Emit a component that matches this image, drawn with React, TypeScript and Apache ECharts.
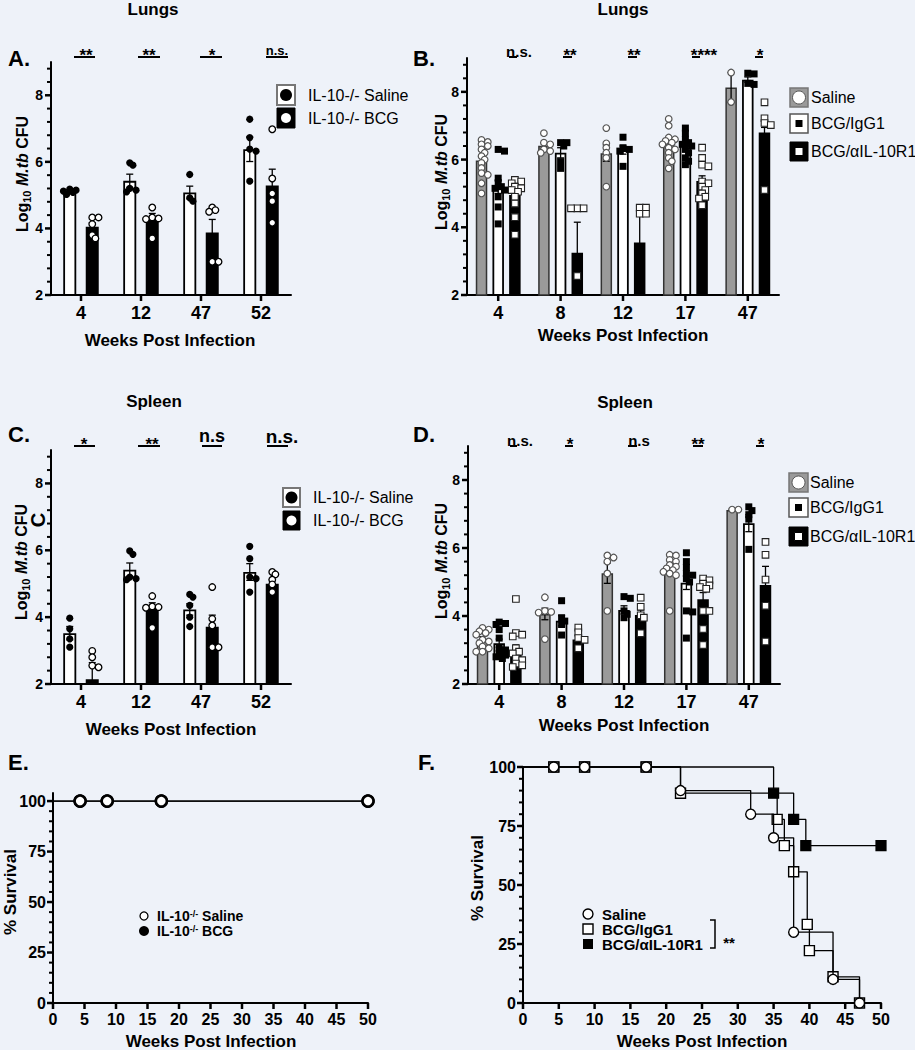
import { useEffect, useRef } from 'react';
import * as echarts from 'echarts';

const FONT = '"Liberation Sans", Arial, Helvetica, sans-serif';
const BG = '#EEF2F9';

// ---------- Panel A: Lungs, IL-10-/- (Saline vs BCG) ----------
const weeksA = ['4', '12', '47', '52'];
const meanA_saline = [5.11, 5.43, 5.08, 6.38];
const semA_saline = [0.05, 0.2, 0.19, 0.37];
const meanA_bcg = [4.05, 4.3, 3.88, 5.29];
const semA_bcg = [0.12, 0.15, 0.39, 0.49];
const ptsA_saline = [
  [5.18, 5.15, 5.12, 5.08, 5.02],
  [5.97, 5.9, 5.2, 5.15, 5.1],
  [5.62, 4.92, 4.82],
  [7.28, 6.73, 6.38, 6.32, 5.42],
];
const ptsA_bcg = [
  [4.33, 4.33, 4.13, 3.8, 3.7],
  [4.63, 4.33, 4.3, 4.28, 3.7],
  [4.63, 4.55, 4.5, 3.0, 3.0],
  [6.98, 5.5, 5.05, 4.82, 4.17],
];

// ---------- Panel B: Lungs (Saline, BCG/IgG1, BCG/aIL-10R1) ----------
const weeksB = ['4', '8', '12', '17', '47'];
const meanB_saline = [5.97, 6.41, 6.19, 6.45, 8.13];
const semB_saline = [0.12, 0.09, 0.24, 0.1, 0.44];
const meanB_igg = [5.2, 6.2, 6.28, 6.43, 8.36];
const semB_igg = [0.2, 0.15, 0.12, 0.1, 0.08];
const meanB_anti = [4.95, 3.25, 3.55, 5.37, 6.8];
const semB_anti = [0.12, 0.9, 0.87, 0.15, 0.15];
const ptsB_saline = [
  [6.58, 6.52, 6.45, 6.4, 6.3, 6.2, 6.1, 6.0, 5.9, 5.75, 5.6, 5.55, 5.3, 5.0],
  [6.78, 6.5, 6.45, 6.3, 6.25, 6.2],
  [6.93, 6.48, 6.35, 6.2, 6.05, 5.2],
  [7.2, 7.0, 6.65, 6.6, 6.55, 6.5, 6.45, 6.35, 6.3, 6.2, 6.05, 5.95, 5.74],
  [8.57, 7.7],
];
const ptsB_igg = [
  [6.3, 6.25, 5.45, 5.3, 5.2, 5.15, 5.1, 4.9, 4.6, 4.1],
  [6.5, 6.5, 6.4, 5.94, 5.74],
  [6.66, 6.35, 6.3, 6.25, 5.8],
  [6.93, 6.78, 6.6, 6.5, 6.45, 6.4, 6.3, 6.2, 6.05, 5.95, 5.85],
  [8.55, 8.53, 8.25, 8.22],
];
const ptsB_anti = [
  [5.4, 5.35, 5.3, 5.2, 5.15, 5.1, 5.05, 4.9, 4.7, 4.3, 3.78],
  [4.56, 4.56, 4.56, 2.56],
  [4.58, 4.58, 4.4, 4.4],
  [6.35, 6.05, 5.85, 5.8, 5.35, 5.3, 5.2, 5.1, 5.0, 4.9, 4.85, 4.65],
  [7.69, 7.22, 7.08, 7.02, 5.1],
];

// ---------- Panel C: Spleen, IL-10-/- ----------
const weeksC = ['4', '12', '47', '52'];
const meanC_saline = [3.52, 5.42, 4.23, 5.35];
const semC_saline = [0.2, 0.2, 0.17, 0.25];
const meanC_bcg = [2.14, 4.31, 3.71, 5.0];
const semC_bcg = [0.5, 0.12, 0.35, 0.12];
const ptsC_saline = [
  [3.97, 3.65, 3.35, 3.1],
  [5.98, 5.88, 5.2, 5.15, 5.12],
  [4.68, 4.6, 4.35, 4.0, 3.72],
  [6.12, 5.75, 5.2, 5.15, 4.75],
];
const ptsC_bcg = [
  [2.99, 2.8, 2.55, 2.5],
  [4.63, 4.32, 4.3, 4.28, 3.68],
  [4.9, 3.95, 3.75, 3.1, 3.1],
  [5.35, 5.28, 5.12, 4.98, 4.75],
];

// ---------- Panel D: Spleen (Saline, BCG/IgG1, BCG/aIL-10R1) ----------
const weeksD = ['4', '8', '12', '17', '47'];
const meanD_saline = [3.31, 4.06, 5.26, 5.4, 7.12];
const semD_saline = [0.08, 0.17, 0.3, 0.08, 0.02];
const meanD_igg = [3.2, 3.86, 4.18, 4.98, 6.73];
const semD_igg = [0.12, 0.15, 0.12, 0.2, 0.25];
const meanD_anti = [3.0, 3.31, 4.03, 4.49, 4.91];
const semD_anti = [0.15, 0.1, 0.15, 0.2, 0.55];
const ptsD_saline = [
  [3.65, 3.6, 3.55, 3.5, 3.45, 3.3, 3.25, 3.2, 3.1, 3.05, 2.95, 2.95],
  [4.55, 4.15, 4.12, 4.1, 3.32],
  [5.78, 5.72, 5.6, 5.25, 4.15],
  [5.8, 5.78, 5.65, 5.6, 5.5, 5.45, 5.4, 5.35, 5.3, 5.25, 5.2, 4.15],
  [7.13, 7.13],
];
const ptsD_igg = [
  [3.82, 3.78, 3.75, 3.6, 3.35, 3.05, 3.0, 2.9, 2.85, 2.8, 2.75],
  [4.45, 3.95, 3.85, 3.75, 3.44],
  [4.57, 4.52, 4.15, 4.05, 3.95],
  [5.86, 5.6, 5.43, 5.25, 5.2, 5.1, 5.0, 4.15, 4.12, 3.35],
  [7.21, 7.1, 6.98, 6.85, 5.96],
];
const ptsD_anti = [
  [4.5, 3.5, 3.45, 3.4, 3.05, 2.95, 2.9, 2.75, 2.7, 2.6, 2.55, 2.5],
  [3.66, 3.52, 3.35, 3.3, 3.05],
  [4.54, 4.27, 4.02, 3.95, 3.49],
  [5.1, 5.05, 4.95, 4.9, 4.85, 4.8, 4.15, 4.15, 3.62, 3.15],
  [6.18, 5.8, 5.07, 4.3, 3.25],
];

// ---------- Panel E: survival IL-10-/- ----------
const weeksE_saline = [0, 4.3, 8.6, 17.2, 50];
const survE_saline = [100, 100, 100, 100, 100];
const weeksE_bcg = [0, 4.3, 8.6, 17.2, 50];
const survE_bcg = [100, 100, 100, 100, 100];

// ---------- Panel F: survival ----------
const weeksF_saline = [0, 4.3, 8.6, 17.2, 22, 31.8, 35, 37.8, 43.3, 47];
const survF_saline = [100, 100, 100, 100, 90, 80, 70, 30, 10, 0];
const weeksF_igg = [0, 4.3, 8.6, 17.2, 22, 35.5, 36.5, 37.8, 39.7, 40, 43.3, 47];
const survF_igg = [100, 100, 100, 100, 88.9, 77.8, 66.7, 55.6, 33.3, 22.2, 11.1, 0];
const weeksF_anti = [0, 4.3, 8.6, 17.2, 35, 37.8, 39.5, 50];
const survF_anti = [100, 100, 100, 100, 88.9, 77.8, 66.7, 66.7];

// tick values
const cfuTicks = [2, 4, 6, 8];
const survTicks = [0, 25, 50, 75, 100];
const weekTicks = [0, 5, 10, 15, 20, 25, 30, 35, 40, 45, 50];

// ---------------- layout ----------------
const GRIDS = [
  { left: 51, top: 62, width: 240, height: 233, min: 2, max: 9 },
  { left: 467, top: 58, width: 312, height: 237, min: 2, max: 9 },
  { left: 51, top: 450, width: 240, height: 234, min: 2, max: 9 },
  { left: 468, top: 446, width: 312, height: 238, min: 2, max: 9 },
  { left: 53, top: 793, width: 315, height: 210, min: 0, max: 104 },
  { left: 523, top: 767, width: 358, height: 236, min: 0, max: 100 },
];

function stepValues(from: number, to: number, step: number, skip: number[]) {
  const out: number[] = [];
  for (let v = from; v <= to + 1e-9; v += step) {
    const r = Math.round(v * 100) / 100;
    if (!skip.some((s) => Math.abs(s - r) < 1e-6)) out.push(r);
  }
  return out;
}

// horizontal spreading of overlapping dots (layout only)
function beeswarm(vals: number[], pxPerUnit: number, d: number): number[] {
  const placed: { x: number; y: number }[] = [];
  const cands = [0, 1, -1, 2, -2, 3, -3].map((k) => k * d * 0.45);
  return vals.map((v) => {
    const y = v * pxPerUnit;
    let chosen = 0;
    let best = -1;
    for (const c of cands) {
      const minDist = placed.length ? Math.min(...placed.map((p) => Math.hypot(p.x - c, p.y - y))) : 99;
      if (minDist >= d * 0.55) { chosen = c; best = -1; break; }
      if (minDist > best) { best = minDist; chosen = c; }
    }
    placed.push({ x: chosen, y });
    return chosen;
  });
}

function marker(kind: string, cx: number, cy: number) {
  switch (kind) {
    case 'dotBlack':
      return { type: 'circle', shape: { cx, cy, r: 3.6 }, style: { fill: '#000' } };
    case 'dotOpen':
      return { type: 'circle', shape: { cx, cy, r: 3.3 }, style: { fill: '#fff', stroke: '#000', lineWidth: 1.3 } };
    case 'dotGray':
      return { type: 'circle', shape: { cx, cy, r: 3.3 }, style: { fill: '#fff', stroke: '#555', lineWidth: 1.2 } };
    case 'sqBlack':
      return { type: 'rect', shape: { x: cx - 3.5, y: cy - 3.5, width: 7, height: 7 }, style: { fill: '#000' } };
    default:
      return { type: 'rect', shape: { x: cx - 3.3, y: cy - 3.3, width: 6.6, height: 6.6 }, style: { fill: '#fff', stroke: '#222', lineWidth: 1.1 } };
  }
}

function barSeries(gi: number, means: number[], style: any, barWidth: number, barGap: string) {
  return {
    type: 'bar', xAxisIndex: gi, yAxisIndex: gi * 2, data: means, barWidth, barGap,
    itemStyle: style, silent: true, z: 3,
  };
}

function errSeries(gi: number, means: number[], sems: number[], offset: number, yMin: number) {
  return {
    type: 'custom', xAxisIndex: gi, yAxisIndex: gi * 2 + 1, z: 4, silent: true,
    data: means.map((m, i) => [i, m, sems[i]]),
    renderItem: (_p: any, api: any) => {
      const i = api.value(0), m = api.value(1), s = api.value(2);
      const low = Math.max(m - s, yMin);
      const t = api.coord([i, m + s]);
      const b = api.coord([i, low]);
      const x = t[0] + offset;
      const st = { stroke: '#000', lineWidth: 1.3, fill: null };
      const children: any[] = [
        { type: 'line', shape: { x1: x, y1: t[1], x2: x, y2: b[1] }, style: st },
        { type: 'line', shape: { x1: x - 3.5, y1: t[1], x2: x + 3.5, y2: t[1] }, style: st },
      ];
      if (m - s > yMin) children.push({ type: 'line', shape: { x1: x - 3.5, y1: b[1], x2: x + 3.5, y2: b[1] }, style: st });
      return { type: 'group', children };
    },
  };
}

function dotSeries(gi: number, pts: number[][], offset: number, kind: string) {
  const data: number[][] = [];
  pts.forEach((arr, ci) => {
    const jit = beeswarm(arr, 33.6, 7);
    arr.forEach((v, k) => data.push([ci, v, jit[k]]));
  });
  return {
    type: 'custom', xAxisIndex: gi, yAxisIndex: gi * 2 + 1, z: 5, silent: true, data,
    renderItem: (_p: any, api: any) => {
      const c = api.coord([api.value(0), api.value(1)]);
      return marker(kind, c[0] + offset + api.value(2), c[1]);
    },
  };
}

function survSeries(gi: number, yIdx: number, weeks: number[], surv: number[], symbol: string, size: number, fill: string, bw: number, z: number) {
  const data = weeks.map((w, i) => (i === 0 ? { value: [w, surv[i]], symbol: 'none' } : [w, surv[i]]));
  return {
    type: 'line', xAxisIndex: gi, yAxisIndex: yIdx, step: 'end', data, symbol, symbolSize: size,
    showAllSymbol: true, clip: false, silent: true, z,
    lineStyle: { color: '#000', width: 1.3 },
    itemStyle: { color: fill, borderColor: '#000', borderWidth: bw },
  };
}

function catX(gi: number, cats: string[]) {
  return {
    type: 'category', gridIndex: gi, data: cats, position: 'bottom',
    axisLine: { show: true, onZero: false, lineStyle: { color: '#000', width: 2 } },
    axisTick: { show: false },
    axisLabel: { color: '#000', fontSize: 18, fontWeight: 'bold', fontFamily: FONT, margin: 9 },
    splitLine: { show: false },
  };
}

function valX(gi: number) {
  return {
    type: 'value', gridIndex: gi, min: 0, max: 50, interval: 5, position: 'bottom',
    axisLine: { show: true, onZero: false, lineStyle: { color: '#000', width: 2 } },
    axisTick: { show: false },
    axisLabel: { color: '#000', fontSize: 16, fontWeight: 'bold', fontFamily: FONT, margin: 8 },
    splitLine: { show: false },
  };
}

function yMajor(gi: number, vals: number[], fs: number, margin: number) {
  const g = GRIDS[gi];
  return {
    type: 'value', gridIndex: gi, position: 'left', min: g.min, max: g.max,
    axisLine: { show: true, onZero: false, lineStyle: { color: '#000', width: 2 } },
    axisTick: { show: false },
    axisLabel: { customValues: vals, color: '#000', fontSize: fs, fontWeight: 'bold', fontFamily: FONT, margin },
    splitLine: { show: false },
  };
}

function yOverlay(gi: number) {
  const g = GRIDS[gi];
  return {
    type: 'value', gridIndex: gi, position: 'left', min: g.min, max: g.max,
    axisLine: { show: false, onZero: false },
    axisTick: { show: false },
    axisLabel: { show: false },
    splitLine: { show: false },
  };
}

function txt(x: number, y: number, text: string, fs: number, o: any = {}) {
  const align = o.align || 'center';
  return {
    type: 'text', x, y, rotation: o.rot || 0, silent: true, z: 10,
    style: {
      text, fontSize: fs, fontWeight: o.weight || 'bold', fontFamily: FONT, fill: '#000',
      align, textAlign: align, verticalAlign: 'middle', textVerticalAlign: 'middle', rich: o.rich,
    },
  };
}

function seg(x1: number, y1: number, x2: number, y2: number, w = 2) {
  return { type: 'line', silent: true, z: 20, shape: { x1, y1, x2, y2 }, style: { stroke: '#000', lineWidth: w } };
}

function sig(text: string, cx: number, cy: number, fs: number, u1: number, u2: number, uy: number) {
  const isStar = text.indexOf('*') >= 0;
  return [txt(cx, isStar ? cy + fs * 0.22 : cy, text, fs), seg(u1, uy, u2, uy, 2)];
}

function logLabel(x: number, y: number) {
  const base = { fontSize: 16, fontWeight: 'bold', fontFamily: FONT, fill: '#000', lineHeight: 20 };
  return {
    type: 'text', x, y, rotation: Math.PI / 2, silent: true, z: 10,
    style: {
      text: '{n|Log}{s|10}{n| }{i|M.tb}{n| CFU}', fill: '#000', fontFamily: FONT,
      align: 'center', textAlign: 'center', verticalAlign: 'middle', textVerticalAlign: 'middle',
      rich: {
        n: base,
        s: { fontSize: 11, fontWeight: 'bold', fontFamily: FONT, fill: '#000', lineHeight: 12, verticalAlign: 'bottom' },
        i: { ...base, fontStyle: 'italic' },
      },
    },
  };
}

function rect(x: number, y: number, w: number, h: number, style: any) {
  return { type: 'rect', silent: true, z: 10, shape: { x, y, width: w, height: h }, style };
}
function circ(cx: number, cy: number, r: number, style: any) {
  return { type: 'circle', silent: true, z: 10, shape: { cx, cy, r }, style };
}

function legend2(x: number, y1: number, y2: number, w: number, h: number, tx: number) {
  return [
    rect(x, y1, w, h, { fill: '#fff', stroke: '#777', lineWidth: 2 }),
    circ(x + w / 2, y1 + h / 2, 6, { fill: '#000' }),
    rect(x, y2, w, h, { fill: '#000', stroke: '#000', lineWidth: 1 }),
    circ(x + w / 2, y2 + h / 2, 5, { fill: '#fff' }),
    txt(tx, y1 + h / 2, 'IL-10-/- Saline', 16, { align: 'left', weight: 'normal' }),
    txt(tx, y2 + h / 2, 'IL-10-/- BCG', 16, { align: 'left', weight: 'normal' }),
  ];
}

function legend3(x: number, ys: number[], w: number, h: number, tx: number) {
  return [
    rect(x, ys[0], w, h, { fill: '#9a9a9a', stroke: '#777', lineWidth: 1.5 }),
    circ(x + w / 2, ys[0] + h / 2, 6.5, { fill: '#fff', stroke: '#555', lineWidth: 1 }),
    rect(x, ys[1], w, h, { fill: '#fff', stroke: '#555', lineWidth: 1.5 }),
    rect(x + w / 2 - 3.5, ys[1] + h / 2 - 3.5, 7, 7, { fill: '#000' }),
    rect(x, ys[2], w, h, { fill: '#000', stroke: '#000', lineWidth: 1 }),
    rect(x + w / 2 - 4, ys[2] + h / 2 - 4, 8, 8, { fill: '#fff', stroke: '#000', lineWidth: 1 }),
    txt(tx, ys[0] + h / 2, 'Saline', 16, { align: 'left', weight: 'normal' }),
    txt(tx, ys[1] + h / 2, 'BCG/IgG1', 16, { align: 'left', weight: 'normal' }),
    txt(tx, ys[2] + h / 2, 'BCG/αIL-10R1', 16, { align: 'left', weight: 'normal' }),
  ];
}

// axis tick marks: linear value-to-pixel map of each grid's axis range
function tickGraphic() {
  const els: any[] = [];
  const minorBar = stepValues(2, 8.8, 0.4, cfuTicks);
  const minorSurv = stepValues(0, 100, 5, survTicks);
  const catSets = [weeksA, weeksB, weeksC, weeksD];
  GRIDS.forEach((g, gi) => {
    const py = (v: number) => g.top + (g.height * (g.max - v)) / (g.max - g.min);
    const bottom = g.top + g.height;
    const left = g.left;
    if (gi < 4) {
      const n = catSets[gi].length;
      catSets[gi].forEach((_c, i) => { const x = left + ((i + 0.5) * g.width) / n; els.push(seg(x, bottom, x, bottom + 6, 2.5)); });
      cfuTicks.forEach((v) => els.push(seg(left - 6, py(v), left, py(v), 2.5)));
      minorBar.forEach((v) => els.push(seg(left - 4, py(v), left, py(v), 2)));
    } else {
      weekTicks.forEach((v) => { const x = left + (g.width * v) / 50; els.push(seg(x, bottom, x, bottom + 6, 2.5)); });
      survTicks.forEach((v) => els.push(seg(left - 6, py(v), left, py(v), 2.5)));
      minorSurv.forEach((v) => els.push(seg(left - 4, py(v), left, py(v), 2)));
    }
  });
  return els;
}

function graphicAll() {
  const richE = {
    b: { fontSize: 14, fontWeight: 'bold', fontFamily: FONT, fill: '#000', lineHeight: 14 },
    p: { fontSize: 9, fontWeight: 'bold', fontFamily: FONT, fill: '#000', lineHeight: 9, verticalAlign: 'top' },
  };
  return [
    txt(153, 9, 'Lungs', 17), txt(623, 9, 'Lungs', 17),
    txt(154, 401, 'Spleen', 17), txt(625, 402, 'Spleen', 17),
    txt(8, 58, 'A.', 22, { align: 'left' }), txt(413, 58, 'B.', 22, { align: 'left' }),
    txt(8, 434, 'C.', 22, { align: 'left' }), txt(413, 434, 'D.', 22, { align: 'left' }),
    txt(8, 762, 'E.', 22, { align: 'left' }), txt(418, 762, 'F.', 22, { align: 'left' }),
    txt(170, 340, 'Weeks Post Infection', 17), txt(623, 335, 'Weeks Post Infection', 17),
    txt(171, 729, 'Weeks Post Infection', 17), txt(624, 725, 'Weeks Post Infection', 17),
    txt(211, 1041, 'Weeks Post Infection', 17), txt(702, 1041, 'Weeks Post Infection', 17),
    logLabel(22, 174), logLabel(441, 172), logLabel(21, 562), logLabel(441, 561),
    txt(38, 520, 'C', 20, { rot: Math.PI / 2 }),
    txt(10, 892, '% Survival', 17, { rot: Math.PI / 2 }),
    txt(477, 878, '% Survival', 17, { rot: Math.PI / 2 }),
    ...legend2(277, 85, 108, 18, 20, 308),
    ...legend2(283, 488, 511, 17, 19, 313),
    ...legend3(790, [88, 114, 142], 18, 19, 811),
    ...legend3(789, [473, 498, 527], 19, 19, 810),
    ...sig('**', 86, 52, 17, 74, 95, 57),
    ...sig('**', 149, 52, 17, 138, 160, 57),
    ...sig('*', 212, 52, 17, 200, 222, 57),
    ...sig('n.s.', 277, 50, 13, 266, 288, 57),
    ...sig('n.s.', 519, 51, 15, 509, 517, 57),
    ...sig('**', 570, 52, 17, 563, 572, 57),
    ...sig('**', 634, 52, 17, 628, 637, 57),
    ...sig('****', 704, 52, 17, 692, 700, 57),
    ...sig('*', 760, 52, 17, 755, 763, 57),
    ...sig('*', 84, 441, 17, 74, 95, 446),
    ...sig('**', 152, 441, 17, 138, 160, 446),
    ...sig('n.s', 212, 436, 18, 202, 222, 446),
    ...sig('n.s.', 282, 436, 19, 267, 288, 446),
    ...sig('n.s.', 520, 440, 15, 510, 517, 446),
    ...sig('*', 570, 441, 17, 565, 573, 446),
    ...sig('n.s', 639, 440, 15, 628, 637, 446),
    ...sig('**', 698, 441, 17, 693, 703, 446),
    ...sig('*', 761, 441, 17, 756, 764, 446),
    circ(144, 916, 4, { fill: '#fff', stroke: '#000', lineWidth: 1.3 }),
    circ(144, 931, 5, { fill: '#000' }),
    txt(157, 916, '{b|IL-10}{p|-/-}{b| Saline}', 14, { align: 'left', rich: richE }),
    txt(157, 931, '{b|IL-10}{p|-/-}{b| BCG}', 14, { align: 'left', rich: richE }),
    circ(588, 914, 5, { fill: '#fff', stroke: '#000', lineWidth: 1.4 }),
    rect(583, 924, 10, 10, { fill: '#fff', stroke: '#000', lineWidth: 1.4 }),
    rect(583, 939, 10, 10, { fill: '#000' }),
    txt(602, 914, 'Saline', 15, { align: 'left' }),
    txt(602, 929, 'BCG/IgG1', 15, { align: 'left' }),
    txt(602, 944, 'BCG/αIL-10R1', 15, { align: 'left' }),
    { type: 'polyline', silent: true, z: 10, shape: { points: [[710, 920], [715, 920], [715, 948], [710, 948]] }, style: { stroke: '#000', lineWidth: 1.5, fill: null } },
    txt(729, 942, '**', 15),
    ...tickGraphic(),
  ];
}

function buildOption() {
  const grid = GRIDS.map((g) => ({ left: g.left, top: g.top, width: g.width, height: g.height }));
  const xAxis = [catX(0, weeksA), catX(1, weeksB), catX(2, weeksC), catX(3, weeksD), valX(4), valX(5)];
  const yAxis: any[] = [];
  for (let g = 0; g < 4; g++) {
    yAxis.push(yMajor(g, cfuTicks, 14, 8));
    yAxis.push(yOverlay(g));
  }
  yAxis.push(yMajor(4, survTicks, 16, 7));
  yAxis.push(yOverlay(4));
  yAxis.push(yMajor(5, survTicks, 16, 7));
  yAxis.push(yOverlay(5));

  const white = { color: '#fff', borderColor: '#000', borderWidth: 1.8 };
  const black = { color: '#000', borderColor: '#000', borderWidth: 1.8 };
  const gray = { color: '#9a9a9a', borderColor: '#333', borderWidth: 1.5 };
  const w2 = 13, g2 = '73%', o2 = 11.25;
  const w3 = 11.5, g3 = '45%', o3 = 16.7;

  const series: any[] = [
    barSeries(0, meanA_saline, white, w2, g2),
    barSeries(0, meanA_bcg, black, w2, g2),
    errSeries(0, meanA_saline, semA_saline, -o2, 2),
    errSeries(0, meanA_bcg, semA_bcg, o2, 2),
    dotSeries(0, ptsA_saline, -o2, 'dotBlack'),
    dotSeries(0, ptsA_bcg, o2, 'dotOpen'),

    barSeries(1, meanB_saline, gray, w3, g3),
    barSeries(1, meanB_igg, white, w3, g3),
    barSeries(1, meanB_anti, black, w3, g3),
    errSeries(1, meanB_saline, semB_saline, -o3, 2),
    errSeries(1, meanB_igg, semB_igg, 0, 2),
    errSeries(1, meanB_anti, semB_anti, o3, 2),
    dotSeries(1, ptsB_saline, -o3, 'dotGray'),
    dotSeries(1, ptsB_igg, 0, 'sqBlack'),
    dotSeries(1, ptsB_anti, o3, 'sqOpen'),

    barSeries(2, meanC_saline, white, w2, g2),
    barSeries(2, meanC_bcg, black, w2, g2),
    errSeries(2, meanC_saline, semC_saline, -o2, 2),
    errSeries(2, meanC_bcg, semC_bcg, o2, 2),
    dotSeries(2, ptsC_saline, -o2, 'dotBlack'),
    dotSeries(2, ptsC_bcg, o2, 'dotOpen'),

    barSeries(3, meanD_saline, gray, w3, g3),
    barSeries(3, meanD_igg, white, w3, g3),
    barSeries(3, meanD_anti, black, w3, g3),
    errSeries(3, meanD_saline, semD_saline, -o3, 2),
    errSeries(3, meanD_igg, semD_igg, 0, 2),
    errSeries(3, meanD_anti, semD_anti, o3, 2),
    dotSeries(3, ptsD_saline, -o3, 'dotGray'),
    dotSeries(3, ptsD_igg, 0, 'sqBlack'),
    dotSeries(3, ptsD_anti, o3, 'sqOpen'),

    survSeries(4, 9, weeksE_bcg, survE_bcg, 'circle', 11, '#000', 2.5, 3),
    survSeries(4, 8, weeksE_saline, survE_saline, 'circle', 11, '#fff', 2.5, 4),

    survSeries(5, 11, weeksF_anti, survF_anti, 'rect', 10, '#000', 1.2, 3),
    survSeries(5, 10, weeksF_igg, survF_igg, 'rect', 10, '#fff', 1.4, 4),
    survSeries(5, 10, weeksF_saline, survF_saline, 'circle', 10, '#fff', 1.4, 5),
  ];

  return {
    animation: false,
    backgroundColor: BG,
    textStyle: { fontFamily: FONT },
    grid,
    xAxis,
    yAxis,
    series,
    graphic: graphicAll(),
  };
}

export default function App() {
  const ref = useRef<HTMLDivElement>(null);
  useEffect(() => {
    document.body.style.margin = '0';
    document.body.style.background = BG;
    const chart = echarts.init(ref.current!, null, { renderer: 'svg' });
    chart.setOption(buildOption() as any);
    return () => chart.dispose();
  }, []);
  return (
    <div
      ref={ref}
      style={{ position: 'absolute', left: 0, top: 0, width: 915, height: 1050, background: BG }}
    />
  );
}
